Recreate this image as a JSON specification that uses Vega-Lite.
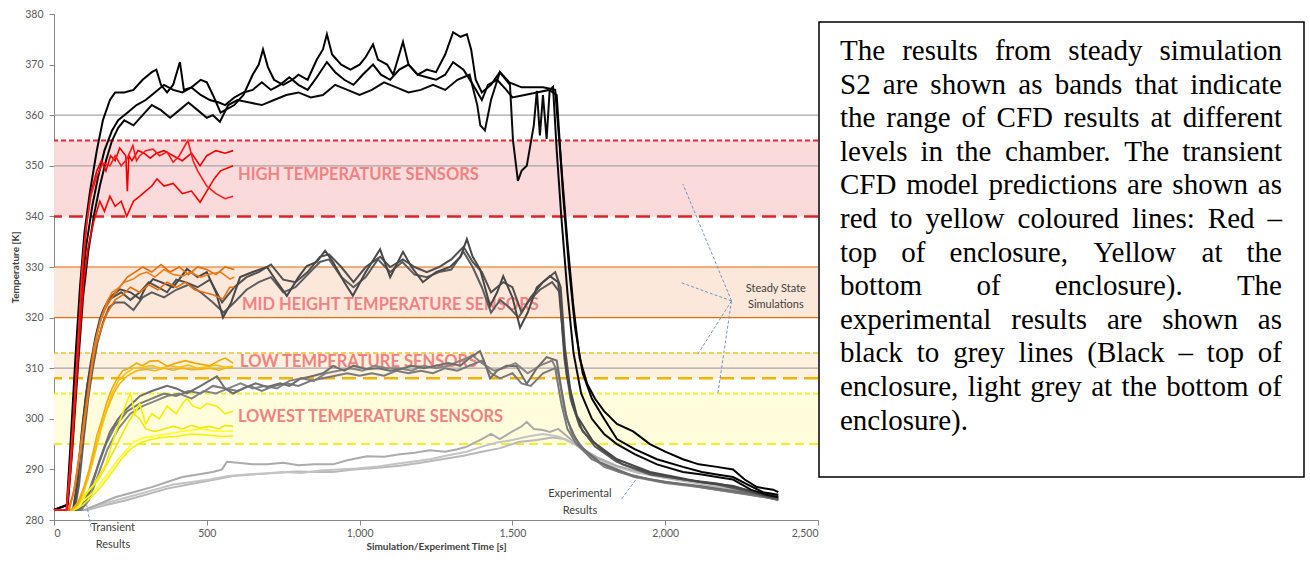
{
"$schema": "https://vega.github.io/schema/vega-lite/v6.json",
"background": "white",
"padding": {"left": 10, "top": 9, "right": 2, "bottom": 2},
"spacing": 1,
"bounds": "flush",
"config": {
  "view": {"stroke": null},
  "axis": {"grid": false, "domainColor": "#868686", "tickColor": "#868686", "tickSize": 5, "labelFont": "Lato", "labelFontSize": 10.5, "labelColor": "#595959", "titleFont": "Lato", "titleFontSize": 10, "titleFontWeight": "bold", "titleColor": "#404040"},
  "axisX": {"labelPadding": 3, "titlePadding": 3},
  "axisY": {"labelPadding": 6, "titlePadding": 4, "minExtent": 30, "maxExtent": 30}
},
"datasets": {
"exp": [
{"s":"exp01","t":0,"v":282},{"s":"exp01","t":110,"v":282},{"s":"exp01","t":160,"v":282.8},{"s":"exp01","t":230,"v":283.8},{"s":"exp01","t":300,"v":285},{"s":"exp01","t":370,"v":286.2},{"s":"exp01","t":440,"v":287},{"s":"exp01","t":510,"v":287.8},{"s":"exp01","t":586,"v":288.7},{"s":"exp01","t":650,"v":289},{"s":"exp01","t":720,"v":289.3},{"s":"exp01","t":790,"v":289.6},{"s":"exp01","t":860,"v":289.5},{"s":"exp01","t":913,"v":289.5},{"s":"exp01","t":980,"v":290},{"s":"exp01","t":1050,"v":290.3},{"s":"exp01","t":1132,"v":290.7},{"s":"exp01","t":1200,"v":291.3},{"s":"exp01","t":1270,"v":292},{"s":"exp01","t":1340,"v":292.7},{"s":"exp01","t":1400,"v":293.5},{"s":"exp01","t":1460,"v":294.2},{"s":"exp01","t":1520,"v":295.4},{"s":"exp01","t":1580,"v":295.8},{"s":"exp01","t":1630,"v":296.3},{"s":"exp01","t":1670,"v":296},{"s":"exp01","t":1710,"v":294.8},{"s":"exp01","t":1760,"v":292.8},{"s":"exp01","t":1830,"v":290.8},{"s":"exp01","t":1900,"v":289.5},{"s":"exp01","t":2000,"v":288.3},{"s":"exp01","t":2100,"v":287.3},{"s":"exp01","t":2200,"v":286.3},{"s":"exp01","t":2300,"v":285},{"s":"exp01","t":2370,"v":284},
{"s":"exp02","t":0,"v":282},{"s":"exp02","t":105,"v":282},{"s":"exp02","t":150,"v":283},{"s":"exp02","t":210,"v":284},{"s":"exp02","t":270,"v":285},{"s":"exp02","t":330,"v":286},{"s":"exp02","t":390,"v":287},{"s":"exp02","t":450,"v":287.5},{"s":"exp02","t":510,"v":288},{"s":"exp02","t":570,"v":288.7},{"s":"exp02","t":630,"v":289},{"s":"exp02","t":690,"v":289.2},{"s":"exp02","t":750,"v":289.5},{"s":"exp02","t":810,"v":289.3},{"s":"exp02","t":870,"v":289.8},{"s":"exp02","t":930,"v":290},{"s":"exp02","t":990,"v":290.2},{"s":"exp02","t":1050,"v":290.5},{"s":"exp02","t":1110,"v":291},{"s":"exp02","t":1170,"v":291.5},{"s":"exp02","t":1230,"v":292},{"s":"exp02","t":1290,"v":292.8},{"s":"exp02","t":1350,"v":293.5},{"s":"exp02","t":1400,"v":294.5},{"s":"exp02","t":1450,"v":295.3},{"s":"exp02","t":1500,"v":295.8},{"s":"exp02","t":1550,"v":296.5},{"s":"exp02","t":1600,"v":297},{"s":"exp02","t":1650,"v":296.5},{"s":"exp02","t":1690,"v":295.5},{"s":"exp02","t":1740,"v":293.5},{"s":"exp02","t":1800,"v":291.5},{"s":"exp02","t":1870,"v":290},{"s":"exp02","t":1950,"v":289},{"s":"exp02","t":2050,"v":288},{"s":"exp02","t":2150,"v":287},{"s":"exp02","t":2250,"v":286},{"s":"exp02","t":2330,"v":285},{"s":"exp02","t":2370,"v":284.2},
{"s":"exp03","t":0,"v":282},{"s":"exp03","t":100,"v":282},{"s":"exp03","t":140,"v":283},{"s":"exp03","t":200,"v":284.5},{"s":"exp03","t":260,"v":285.5},{"s":"exp03","t":320,"v":286.5},{"s":"exp03","t":370,"v":287.5},{"s":"exp03","t":420,"v":288.5},{"s":"exp03","t":470,"v":289},{"s":"exp03","t":520,"v":289.5},{"s":"exp03","t":550,"v":290},{"s":"exp03","t":566,"v":291.5},{"s":"exp03","t":600,"v":291.3},{"s":"exp03","t":650,"v":291},{"s":"exp03","t":697,"v":291},{"s":"exp03","t":750,"v":291.3},{"s":"exp03","t":800,"v":290.8},{"s":"exp03","t":850,"v":291},{"s":"exp03","t":913,"v":291},{"s":"exp03","t":960,"v":291.8},{"s":"exp03","t":1000,"v":292.3},{"s":"exp03","t":1024,"v":292.6},{"s":"exp03","t":1080,"v":292.5},{"s":"exp03","t":1132,"v":293},{"s":"exp03","t":1180,"v":293.3},{"s":"exp03","t":1230,"v":293.8},{"s":"exp03","t":1280,"v":293.5},{"s":"exp03","t":1320,"v":294},{"s":"exp03","t":1351,"v":294.5},{"s":"exp03","t":1400,"v":296},{"s":"exp03","t":1430,"v":297},{"s":"exp03","t":1459,"v":296},{"s":"exp03","t":1500,"v":297.5},{"s":"exp03","t":1530,"v":298.5},{"s":"exp03","t":1547,"v":299.4},{"s":"exp03","t":1570,"v":298},{"s":"exp03","t":1600,"v":297.8},{"s":"exp03","t":1623,"v":297.4},{"s":"exp03","t":1650,"v":298},{"s":"exp03","t":1678,"v":296.6},{"s":"exp03","t":1700,"v":295.5},{"s":"exp03","t":1731,"v":294},{"s":"exp03","t":1780,"v":292.3},{"s":"exp03","t":1842,"v":290.7},{"s":"exp03","t":1920,"v":289.5},{"s":"exp03","t":2005,"v":288.7},{"s":"exp03","t":2110,"v":287.5},{"s":"exp03","t":2222,"v":286.7},{"s":"exp03","t":2300,"v":285.3},{"s":"exp03","t":2353,"v":284.2},{"s":"exp03","t":2370,"v":284},
{"s":"exp04","t":0,"v":282},{"s":"exp04","t":90,"v":282},{"s":"exp04","t":115,"v":284},{"s":"exp04","t":145,"v":289},{"s":"exp04","t":175,"v":294},{"s":"exp04","t":210,"v":298},{"s":"exp04","t":250,"v":301},{"s":"exp04","t":290,"v":302.5},{"s":"exp04","t":330,"v":303.5},{"s":"exp04","t":370,"v":304.5},{"s":"exp04","t":410,"v":305},{"s":"exp04","t":450,"v":304},{"s":"exp04","t":490,"v":305.5},{"s":"exp04","t":530,"v":305},{"s":"exp04","t":570,"v":306},{"s":"exp04","t":610,"v":307},{"s":"exp04","t":650,"v":306},{"s":"exp04","t":690,"v":306.5},{"s":"exp04","t":730,"v":306},{"s":"exp04","t":770,"v":307.5},{"s":"exp04","t":810,"v":308},{"s":"exp04","t":850,"v":307.5},{"s":"exp04","t":890,"v":309},{"s":"exp04","t":930,"v":309.5},{"s":"exp04","t":970,"v":310},{"s":"exp04","t":1010,"v":309.5},{"s":"exp04","t":1050,"v":310.5},{"s":"exp04","t":1090,"v":310},{"s":"exp04","t":1130,"v":310},{"s":"exp04","t":1170,"v":309.5},{"s":"exp04","t":1210,"v":310.5},{"s":"exp04","t":1250,"v":310},{"s":"exp04","t":1290,"v":310.5},{"s":"exp04","t":1330,"v":311.5},{"s":"exp04","t":1370,"v":312.5},{"s":"exp04","t":1400,"v":311},{"s":"exp04","t":1440,"v":309.5},{"s":"exp04","t":1470,"v":310},{"s":"exp04","t":1510,"v":311},{"s":"exp04","t":1550,"v":309},{"s":"exp04","t":1590,"v":310.5},{"s":"exp04","t":1630,"v":311.5},{"s":"exp04","t":1650,"v":309},{"s":"exp04","t":1670,"v":302},{"s":"exp04","t":1695,"v":297},{"s":"exp04","t":1740,"v":293.5},{"s":"exp04","t":1800,"v":290.5},{"s":"exp04","t":1900,"v":288.5},{"s":"exp04","t":2000,"v":287.3},{"s":"exp04","t":2110,"v":286.5},{"s":"exp04","t":2220,"v":285.5},{"s":"exp04","t":2330,"v":284.5},{"s":"exp04","t":2370,"v":284},
{"s":"exp05","t":0,"v":282},{"s":"exp05","t":85,"v":282},{"s":"exp05","t":110,"v":285},{"s":"exp05","t":140,"v":290},{"s":"exp05","t":170,"v":295},{"s":"exp05","t":200,"v":298.5},{"s":"exp05","t":240,"v":301.5},{"s":"exp05","t":280,"v":303},{"s":"exp05","t":320,"v":304},{"s":"exp05","t":360,"v":305},{"s":"exp05","t":400,"v":304.5},{"s":"exp05","t":440,"v":305.5},{"s":"exp05","t":480,"v":305},{"s":"exp05","t":520,"v":306.5},{"s":"exp05","t":560,"v":306},{"s":"exp05","t":600,"v":305.5},{"s":"exp05","t":640,"v":306.5},{"s":"exp05","t":680,"v":305.5},{"s":"exp05","t":720,"v":306.5},{"s":"exp05","t":760,"v":307},{"s":"exp05","t":800,"v":306.5},{"s":"exp05","t":840,"v":307.5},{"s":"exp05","t":880,"v":308},{"s":"exp05","t":920,"v":308.5},{"s":"exp05","t":960,"v":309},{"s":"exp05","t":1000,"v":308.5},{"s":"exp05","t":1040,"v":309},{"s":"exp05","t":1080,"v":308.5},{"s":"exp05","t":1120,"v":309.5},{"s":"exp05","t":1160,"v":309},{"s":"exp05","t":1200,"v":309.5},{"s":"exp05","t":1240,"v":309},{"s":"exp05","t":1280,"v":310},{"s":"exp05","t":1320,"v":309.5},{"s":"exp05","t":1360,"v":310.5},{"s":"exp05","t":1400,"v":311.5},{"s":"exp05","t":1430,"v":309},{"s":"exp05","t":1460,"v":308},{"s":"exp05","t":1500,"v":309},{"s":"exp05","t":1530,"v":307},{"s":"exp05","t":1560,"v":306.5},{"s":"exp05","t":1600,"v":309},{"s":"exp05","t":1640,"v":310},{"s":"exp05","t":1660,"v":303},{"s":"exp05","t":1680,"v":298},{"s":"exp05","t":1710,"v":295},{"s":"exp05","t":1760,"v":292},{"s":"exp05","t":1850,"v":289.5},{"s":"exp05","t":1950,"v":288},{"s":"exp05","t":2060,"v":287},{"s":"exp05","t":2170,"v":286},{"s":"exp05","t":2280,"v":285},{"s":"exp05","t":2370,"v":284},
{"s":"exp06","t":0,"v":282},{"s":"exp06","t":80,"v":282},{"s":"exp06","t":100,"v":283},{"s":"exp06","t":120,"v":286},{"s":"exp06","t":150,"v":292},{"s":"exp06","t":183,"v":297.4},{"s":"exp06","t":210,"v":300},{"s":"exp06","t":238,"v":302},{"s":"exp06","t":281,"v":304.5},{"s":"exp06","t":320,"v":305.5},{"s":"exp06","t":370,"v":306.5},{"s":"exp06","t":400,"v":306},{"s":"exp06","t":435,"v":305},{"s":"exp06","t":480,"v":306.5},{"s":"exp06","t":533,"v":308.4},{"s":"exp06","t":560,"v":306},{"s":"exp06","t":586,"v":305},{"s":"exp06","t":620,"v":306},{"s":"exp06","t":660,"v":307},{"s":"exp06","t":697,"v":306.3},{"s":"exp06","t":740,"v":307},{"s":"exp06","t":770,"v":306.5},{"s":"exp06","t":805,"v":307.9},{"s":"exp06","t":850,"v":308.5},{"s":"exp06","t":880,"v":309},{"s":"exp06","t":913,"v":310.4},{"s":"exp06","t":950,"v":309.5},{"s":"exp06","t":980,"v":310.5},{"s":"exp06","t":1024,"v":309.8},{"s":"exp06","t":1060,"v":310},{"s":"exp06","t":1100,"v":309.5},{"s":"exp06","t":1132,"v":309.8},{"s":"exp06","t":1170,"v":310.5},{"s":"exp06","t":1210,"v":310},{"s":"exp06","t":1250,"v":310.5},{"s":"exp06","t":1290,"v":311},{"s":"exp06","t":1330,"v":310.5},{"s":"exp06","t":1360,"v":312},{"s":"exp06","t":1394,"v":313.4},{"s":"exp06","t":1410,"v":311},{"s":"exp06","t":1427,"v":308},{"s":"exp06","t":1450,"v":309.5},{"s":"exp06","t":1480,"v":310.5},{"s":"exp06","t":1514,"v":310.4},{"s":"exp06","t":1547,"v":306.9},{"s":"exp06","t":1580,"v":310},{"s":"exp06","t":1612,"v":312.2},{"s":"exp06","t":1645,"v":311.5},{"s":"exp06","t":1660,"v":306},{"s":"exp06","t":1678,"v":300},{"s":"exp06","t":1700,"v":297},{"s":"exp06","t":1721,"v":294.6},{"s":"exp06","t":1787,"v":291.4},{"s":"exp06","t":1895,"v":288.7},{"s":"exp06","t":2000,"v":287.5},{"s":"exp06","t":2114,"v":286.7},{"s":"exp06","t":2220,"v":285.8},{"s":"exp06","t":2333,"v":284.7},{"s":"exp06","t":2370,"v":284.3},
{"s":"exp07","t":0,"v":282},{"s":"exp07","t":68,"v":282},{"s":"exp07","t":82,"v":287},{"s":"exp07","t":97,"v":296},{"s":"exp07","t":112,"v":304},{"s":"exp07","t":127,"v":310},{"s":"exp07","t":142,"v":315},{"s":"exp07","t":160,"v":319},{"s":"exp07","t":180,"v":322},{"s":"exp07","t":200,"v":323},{"s":"exp07","t":230,"v":323},{"s":"exp07","t":260,"v":321.5},{"s":"exp07","t":290,"v":324},{"s":"exp07","t":320,"v":325},{"s":"exp07","t":360,"v":324},{"s":"exp07","t":400,"v":325.5},{"s":"exp07","t":440,"v":326.5},{"s":"exp07","t":480,"v":325},{"s":"exp07","t":520,"v":323},{"s":"exp07","t":555,"v":321},{"s":"exp07","t":590,"v":323},{"s":"exp07","t":630,"v":325.5},{"s":"exp07","t":670,"v":327},{"s":"exp07","t":710,"v":328},{"s":"exp07","t":750,"v":325},{"s":"exp07","t":790,"v":326},{"s":"exp07","t":830,"v":328.5},{"s":"exp07","t":870,"v":331},{"s":"exp07","t":900,"v":331.5},{"s":"exp07","t":940,"v":328},{"s":"exp07","t":980,"v":326},{"s":"exp07","t":1020,"v":328},{"s":"exp07","t":1060,"v":331.5},{"s":"exp07","t":1100,"v":329},{"s":"exp07","t":1140,"v":331},{"s":"exp07","t":1180,"v":328.5},{"s":"exp07","t":1220,"v":328},{"s":"exp07","t":1260,"v":329},{"s":"exp07","t":1300,"v":329.5},{"s":"exp07","t":1340,"v":333},{"s":"exp07","t":1370,"v":330},{"s":"exp07","t":1400,"v":326},{"s":"exp07","t":1430,"v":321},{"s":"exp07","t":1460,"v":323.5},{"s":"exp07","t":1490,"v":322},{"s":"exp07","t":1520,"v":320},{"s":"exp07","t":1550,"v":323},{"s":"exp07","t":1590,"v":325.5},{"s":"exp07","t":1630,"v":327},{"s":"exp07","t":1655,"v":325},{"s":"exp07","t":1670,"v":312},{"s":"exp07","t":1690,"v":304},{"s":"exp07","t":1720,"v":298.5},{"s":"exp07","t":1770,"v":294.5},{"s":"exp07","t":1842,"v":291.5},{"s":"exp07","t":1950,"v":289},{"s":"exp07","t":2060,"v":288},{"s":"exp07","t":2170,"v":287},{"s":"exp07","t":2280,"v":285.5},{"s":"exp07","t":2370,"v":284},
{"s":"exp08","t":0,"v":282},{"s":"exp08","t":65,"v":282},{"s":"exp08","t":78,"v":288},{"s":"exp08","t":94,"v":299},{"s":"exp08","t":110,"v":307},{"s":"exp08","t":125,"v":312},{"s":"exp08","t":140,"v":317},{"s":"exp08","t":158,"v":321},{"s":"exp08","t":178,"v":323.5},{"s":"exp08","t":220,"v":325},{"s":"exp08","t":250,"v":323.5},{"s":"exp08","t":281,"v":325},{"s":"exp08","t":310,"v":327},{"s":"exp08","t":340,"v":326},{"s":"exp08","t":370,"v":325},{"s":"exp08","t":400,"v":327.5},{"s":"exp08","t":430,"v":327},{"s":"exp08","t":470,"v":326},{"s":"exp08","t":510,"v":327.5},{"s":"exp08","t":550,"v":323},{"s":"exp08","t":590,"v":326},{"s":"exp08","t":630,"v":328},{"s":"exp08","t":670,"v":329},{"s":"exp08","t":710,"v":330.5},{"s":"exp08","t":750,"v":327.5},{"s":"exp08","t":790,"v":327},{"s":"exp08","t":830,"v":329},{"s":"exp08","t":870,"v":332},{"s":"exp08","t":900,"v":332.5},{"s":"exp08","t":940,"v":330},{"s":"exp08","t":980,"v":327},{"s":"exp08","t":1020,"v":330},{"s":"exp08","t":1067,"v":332},{"s":"exp08","t":1100,"v":330},{"s":"exp08","t":1142,"v":331.5},{"s":"exp08","t":1180,"v":330},{"s":"exp08","t":1220,"v":329},{"s":"exp08","t":1260,"v":330},{"s":"exp08","t":1300,"v":331.5},{"s":"exp08","t":1340,"v":334},{"s":"exp08","t":1370,"v":331},{"s":"exp08","t":1400,"v":329},{"s":"exp08","t":1430,"v":325},{"s":"exp08","t":1470,"v":327},{"s":"exp08","t":1500,"v":326},{"s":"exp08","t":1530,"v":321},{"s":"exp08","t":1560,"v":324},{"s":"exp08","t":1600,"v":327},{"s":"exp08","t":1640,"v":329},{"s":"exp08","t":1658,"v":326},{"s":"exp08","t":1672,"v":314},{"s":"exp08","t":1695,"v":303},{"s":"exp08","t":1730,"v":297.5},{"s":"exp08","t":1790,"v":294},{"s":"exp08","t":1860,"v":291},{"s":"exp08","t":1950,"v":289.3},{"s":"exp08","t":2060,"v":288},{"s":"exp08","t":2170,"v":287.2},{"s":"exp08","t":2280,"v":285.8},{"s":"exp08","t":2370,"v":284.8},
{"s":"exp09","t":0,"v":282},{"s":"exp09","t":62,"v":282},{"s":"exp09","t":75,"v":287},{"s":"exp09","t":90,"v":297},{"s":"exp09","t":105,"v":305},{"s":"exp09","t":120,"v":311},{"s":"exp09","t":135,"v":316},{"s":"exp09","t":150,"v":319.7},{"s":"exp09","t":165,"v":322},{"s":"exp09","t":183,"v":324},{"s":"exp09","t":216,"v":325.6},{"s":"exp09","t":250,"v":325},{"s":"exp09","t":281,"v":323.7},{"s":"exp09","t":300,"v":326},{"s":"exp09","t":324,"v":327.6},{"s":"exp09","t":350,"v":327},{"s":"exp09","t":390,"v":326},{"s":"exp09","t":435,"v":329.6},{"s":"exp09","t":470,"v":328},{"s":"exp09","t":500,"v":329},{"s":"exp09","t":530,"v":325},{"s":"exp09","t":553,"v":320},{"s":"exp09","t":580,"v":323},{"s":"exp09","t":609,"v":328},{"s":"exp09","t":650,"v":329},{"s":"exp09","t":697,"v":330},{"s":"exp09","t":730,"v":327},{"s":"exp09","t":762,"v":324.3},{"s":"exp09","t":800,"v":328},{"s":"exp09","t":827,"v":330.2},{"s":"exp09","t":860,"v":331},{"s":"exp09","t":887,"v":333.2},{"s":"exp09","t":913,"v":331},{"s":"exp09","t":950,"v":327},{"s":"exp09","t":978,"v":324.3},{"s":"exp09","t":1020,"v":329},{"s":"exp09","t":1067,"v":333.5},{"s":"exp09","t":1100,"v":328},{"s":"exp09","t":1142,"v":333},{"s":"exp09","t":1170,"v":330},{"s":"exp09","t":1207,"v":327},{"s":"exp09","t":1250,"v":329},{"s":"exp09","t":1296,"v":330},{"s":"exp09","t":1330,"v":332},{"s":"exp09","t":1351,"v":335.5},{"s":"exp09","t":1370,"v":332},{"s":"exp09","t":1394,"v":329.6},{"s":"exp09","t":1427,"v":322.3},{"s":"exp09","t":1450,"v":325},{"s":"exp09","t":1470,"v":328.2},{"s":"exp09","t":1500,"v":324},{"s":"exp09","t":1525,"v":318},{"s":"exp09","t":1550,"v":321},{"s":"exp09","t":1580,"v":326},{"s":"exp09","t":1623,"v":328.2},{"s":"exp09","t":1650,"v":327},{"s":"exp09","t":1666,"v":316},{"s":"exp09","t":1678,"v":308.5},{"s":"exp09","t":1711,"v":300.6},{"s":"exp09","t":1765,"v":295.4},{"s":"exp09","t":1842,"v":292},{"s":"exp09","t":1950,"v":289.5},{"s":"exp09","t":2050,"v":288.3},{"s":"exp09","t":2114,"v":287.5},{"s":"exp09","t":2222,"v":286.7},{"s":"exp09","t":2333,"v":284.7},{"s":"exp09","t":2370,"v":284.5},
{"s":"exp10","t":0,"v":282},{"s":"exp10","t":45,"v":283},{"s":"exp10","t":60,"v":294},{"s":"exp10","t":78,"v":310},{"s":"exp10","t":95,"v":324},{"s":"exp10","t":112,"v":333},{"s":"exp10","t":130,"v":340},{"s":"exp10","t":150,"v":346},{"s":"exp10","t":170,"v":351},{"s":"exp10","t":190,"v":355},{"s":"exp10","t":210,"v":357.5},{"s":"exp10","t":230,"v":359},{"s":"exp10","t":260,"v":358},{"s":"exp10","t":290,"v":360},{"s":"exp10","t":320,"v":362},{"s":"exp10","t":350,"v":361},{"s":"exp10","t":380,"v":359.5},{"s":"exp10","t":410,"v":361},{"s":"exp10","t":440,"v":362.5},{"s":"exp10","t":470,"v":361},{"s":"exp10","t":500,"v":359.5},{"s":"exp10","t":520,"v":360},{"s":"exp10","t":543,"v":358.7},{"s":"exp10","t":570,"v":362},{"s":"exp10","t":600,"v":363},{"s":"exp10","t":640,"v":362.5},{"s":"exp10","t":680,"v":362},{"s":"exp10","t":720,"v":363},{"s":"exp10","t":760,"v":364},{"s":"exp10","t":800,"v":364.5},{"s":"exp10","t":840,"v":363.5},{"s":"exp10","t":880,"v":364},{"s":"exp10","t":920,"v":366},{"s":"exp10","t":960,"v":365},{"s":"exp10","t":1000,"v":364},{"s":"exp10","t":1040,"v":365},{"s":"exp10","t":1080,"v":366.5},{"s":"exp10","t":1120,"v":365.5},{"s":"exp10","t":1160,"v":364.5},{"s":"exp10","t":1200,"v":365},{"s":"exp10","t":1240,"v":366},{"s":"exp10","t":1280,"v":365},{"s":"exp10","t":1320,"v":367},{"s":"exp10","t":1360,"v":368},{"s":"exp10","t":1385,"v":362},{"s":"exp10","t":1395,"v":358},{"s":"exp10","t":1410,"v":357},{"s":"exp10","t":1430,"v":363},{"s":"exp10","t":1459,"v":368.5},{"s":"exp10","t":1492,"v":366},{"s":"exp10","t":1502,"v":355},{"s":"exp10","t":1518,"v":347},{"s":"exp10","t":1530,"v":349},{"s":"exp10","t":1547,"v":350},{"s":"exp10","t":1570,"v":358},{"s":"exp10","t":1580,"v":364.8},{"s":"exp10","t":1590,"v":356},{"s":"exp10","t":1600,"v":364},{"s":"exp10","t":1612,"v":355.3},{"s":"exp10","t":1622,"v":365},{"s":"exp10","t":1633,"v":365.6},{"s":"exp10","t":1645,"v":353},{"s":"exp10","t":1660,"v":340},{"s":"exp10","t":1680,"v":325},{"s":"exp10","t":1700,"v":313},{"s":"exp10","t":1725,"v":305},{"s":"exp10","t":1760,"v":300},{"s":"exp10","t":1800,"v":297},{"s":"exp10","t":1842,"v":295},{"s":"exp10","t":1900,"v":293},{"s":"exp10","t":1973,"v":291},{"s":"exp10","t":2058,"v":289.5},{"s":"exp10","t":2120,"v":289},{"s":"exp10","t":2169,"v":288.5},{"s":"exp10","t":2222,"v":288},{"s":"exp10","t":2280,"v":286},{"s":"exp10","t":2330,"v":285},{"s":"exp10","t":2370,"v":284.5},
{"s":"exp11","t":0,"v":282},{"s":"exp11","t":44,"v":283},{"s":"exp11","t":58,"v":295},{"s":"exp11","t":75,"v":312},{"s":"exp11","t":90,"v":325},{"s":"exp11","t":105,"v":334},{"s":"exp11","t":125,"v":342},{"s":"exp11","t":145,"v":348},{"s":"exp11","t":165,"v":353},{"s":"exp11","t":190,"v":357},{"s":"exp11","t":210,"v":359},{"s":"exp11","t":240,"v":360.5},{"s":"exp11","t":270,"v":362},{"s":"exp11","t":300,"v":363},{"s":"exp11","t":330,"v":364.5},{"s":"exp11","t":360,"v":366},{"s":"exp11","t":390,"v":365},{"s":"exp11","t":420,"v":364.5},{"s":"exp11","t":450,"v":365.5},{"s":"exp11","t":480,"v":364},{"s":"exp11","t":510,"v":363},{"s":"exp11","t":540,"v":362.5},{"s":"exp11","t":560,"v":362},{"s":"exp11","t":590,"v":363.5},{"s":"exp11","t":620,"v":364.5},{"s":"exp11","t":650,"v":365},{"s":"exp11","t":680,"v":366.5},{"s":"exp11","t":710,"v":365},{"s":"exp11","t":740,"v":366},{"s":"exp11","t":770,"v":367.5},{"s":"exp11","t":800,"v":366},{"s":"exp11","t":830,"v":365},{"s":"exp11","t":860,"v":367.5},{"s":"exp11","t":893,"v":370.5},{"s":"exp11","t":920,"v":368.5},{"s":"exp11","t":950,"v":367},{"s":"exp11","t":980,"v":366},{"s":"exp11","t":1010,"v":368},{"s":"exp11","t":1044,"v":370},{"s":"exp11","t":1070,"v":368},{"s":"exp11","t":1100,"v":367},{"s":"exp11","t":1130,"v":369},{"s":"exp11","t":1160,"v":370},{"s":"exp11","t":1190,"v":368},{"s":"exp11","t":1220,"v":367.5},{"s":"exp11","t":1250,"v":367},{"s":"exp11","t":1280,"v":368},{"s":"exp11","t":1306,"v":370.5},{"s":"exp11","t":1340,"v":369},{"s":"exp11","t":1371,"v":366},{"s":"exp11","t":1400,"v":363},{"s":"exp11","t":1420,"v":366},{"s":"exp11","t":1450,"v":367},{"s":"exp11","t":1480,"v":365},{"s":"exp11","t":1500,"v":363.5},{"s":"exp11","t":1540,"v":364},{"s":"exp11","t":1580,"v":364.5},{"s":"exp11","t":1620,"v":365},{"s":"exp11","t":1645,"v":364},{"s":"exp11","t":1665,"v":345},{"s":"exp11","t":1685,"v":330},{"s":"exp11","t":1705,"v":318},{"s":"exp11","t":1730,"v":309},{"s":"exp11","t":1760,"v":304},{"s":"exp11","t":1800,"v":300},{"s":"exp11","t":1842,"v":296},{"s":"exp11","t":1900,"v":294},{"s":"exp11","t":1973,"v":292},{"s":"exp11","t":2058,"v":290.5},{"s":"exp11","t":2120,"v":289.5},{"s":"exp11","t":2169,"v":289},{"s":"exp11","t":2222,"v":288.5},{"s":"exp11","t":2270,"v":287},{"s":"exp11","t":2320,"v":285.5},{"s":"exp11","t":2370,"v":285},
{"s":"exp12","t":0,"v":282},{"s":"exp12","t":42,"v":283},{"s":"exp12","t":55,"v":296},{"s":"exp12","t":70,"v":312},{"s":"exp12","t":85,"v":326},{"s":"exp12","t":100,"v":337},{"s":"exp12","t":118,"v":345},{"s":"exp12","t":140,"v":353},{"s":"exp12","t":160,"v":359},{"s":"exp12","t":183,"v":363},{"s":"exp12","t":200,"v":364.5},{"s":"exp12","t":230,"v":364.5},{"s":"exp12","t":260,"v":365},{"s":"exp12","t":290,"v":367},{"s":"exp12","t":320,"v":368.5},{"s":"exp12","t":335,"v":369},{"s":"exp12","t":350,"v":366},{"s":"exp12","t":370,"v":364.5},{"s":"exp12","t":390,"v":366},{"s":"exp12","t":412,"v":370.5},{"s":"exp12","t":425,"v":365},{"s":"exp12","t":450,"v":365.5},{"s":"exp12","t":480,"v":367},{"s":"exp12","t":500,"v":366.5},{"s":"exp12","t":520,"v":364},{"s":"exp12","t":545,"v":360.5},{"s":"exp12","t":560,"v":361},{"s":"exp12","t":590,"v":362},{"s":"exp12","t":620,"v":364},{"s":"exp12","t":650,"v":368},{"s":"exp12","t":670,"v":370},{"s":"exp12","t":684,"v":373},{"s":"exp12","t":700,"v":369.5},{"s":"exp12","t":720,"v":367},{"s":"exp12","t":750,"v":366},{"s":"exp12","t":780,"v":367},{"s":"exp12","t":800,"v":368},{"s":"exp12","t":830,"v":367},{"s":"exp12","t":860,"v":371},{"s":"exp12","t":880,"v":373},{"s":"exp12","t":893,"v":376},{"s":"exp12","t":910,"v":372},{"s":"exp12","t":940,"v":370},{"s":"exp12","t":970,"v":369},{"s":"exp12","t":1000,"v":370},{"s":"exp12","t":1020,"v":371.5},{"s":"exp12","t":1044,"v":374},{"s":"exp12","t":1060,"v":371},{"s":"exp12","t":1090,"v":370},{"s":"exp12","t":1110,"v":368},{"s":"exp12","t":1142,"v":374.5},{"s":"exp12","t":1160,"v":370},{"s":"exp12","t":1190,"v":368},{"s":"exp12","t":1220,"v":369},{"s":"exp12","t":1250,"v":368.5},{"s":"exp12","t":1280,"v":372},{"s":"exp12","t":1306,"v":376.4},{"s":"exp12","t":1330,"v":375.5},{"s":"exp12","t":1351,"v":376},{"s":"exp12","t":1365,"v":373},{"s":"exp12","t":1380,"v":367},{"s":"exp12","t":1400,"v":364.5},{"s":"exp12","t":1430,"v":366},{"s":"exp12","t":1459,"v":368.5},{"s":"exp12","t":1490,"v":366.5},{"s":"exp12","t":1530,"v":365.5},{"s":"exp12","t":1560,"v":365.5},{"s":"exp12","t":1600,"v":365.5},{"s":"exp12","t":1640,"v":365},{"s":"exp12","t":1660,"v":350},{"s":"exp12","t":1680,"v":335},{"s":"exp12","t":1700,"v":322},{"s":"exp12","t":1720,"v":312},{"s":"exp12","t":1744,"v":307},{"s":"exp12","t":1770,"v":304},{"s":"exp12","t":1800,"v":301.5},{"s":"exp12","t":1842,"v":299},{"s":"exp12","t":1895,"v":297.5},{"s":"exp12","t":1950,"v":295},{"s":"exp12","t":2000,"v":293.5},{"s":"exp12","t":2058,"v":292},{"s":"exp12","t":2110,"v":291},{"s":"exp12","t":2169,"v":290.5},{"s":"exp12","t":2222,"v":290},{"s":"exp12","t":2260,"v":288},{"s":"exp12","t":2300,"v":286.5},{"s":"exp12","t":2353,"v":286},{"s":"exp12","t":2370,"v":285.5}
],
"cfd": [
{"s":"cfd01","t":0,"v":282},{"s":"cfd01","t":66,"v":282},{"s":"cfd01","t":95,"v":283},{"s":"cfd01","t":130,"v":285},{"s":"cfd01","t":160,"v":287},{"s":"cfd01","t":190,"v":289.5},{"s":"cfd01","t":220,"v":292},{"s":"cfd01","t":250,"v":294},{"s":"cfd01","t":280,"v":295.2},{"s":"cfd01","t":310,"v":295.8},{"s":"cfd01","t":350,"v":296.3},{"s":"cfd01","t":400,"v":296.5},{"s":"cfd01","t":450,"v":297},{"s":"cfd01","t":500,"v":296.8},{"s":"cfd01","t":550,"v":296.5},{"s":"cfd01","t":586,"v":296.6},
{"s":"cfd02","t":0,"v":282},{"s":"cfd02","t":64,"v":282},{"s":"cfd02","t":90,"v":283.5},{"s":"cfd02","t":120,"v":285},{"s":"cfd02","t":150,"v":287},{"s":"cfd02","t":180,"v":289.5},{"s":"cfd02","t":210,"v":292},{"s":"cfd02","t":240,"v":294},{"s":"cfd02","t":259,"v":295.4},{"s":"cfd02","t":290,"v":296.2},{"s":"cfd02","t":320,"v":296.5},{"s":"cfd02","t":370,"v":297},{"s":"cfd02","t":420,"v":297.5},{"s":"cfd02","t":478,"v":298},{"s":"cfd02","t":520,"v":297.6},{"s":"cfd02","t":550,"v":297.5},{"s":"cfd02","t":586,"v":297.6},
{"s":"cfd03","t":0,"v":282},{"s":"cfd03","t":62,"v":282},{"s":"cfd03","t":85,"v":283.5},{"s":"cfd03","t":110,"v":285.5},{"s":"cfd03","t":140,"v":287.5},{"s":"cfd03","t":165,"v":290},{"s":"cfd03","t":190,"v":293},{"s":"cfd03","t":215,"v":296},{"s":"cfd03","t":240,"v":299},{"s":"cfd03","t":260,"v":301},{"s":"cfd03","t":280,"v":300},{"s":"cfd03","t":300,"v":298},{"s":"cfd03","t":330,"v":297.5},{"s":"cfd03","t":360,"v":298},{"s":"cfd03","t":390,"v":298.5},{"s":"cfd03","t":420,"v":298},{"s":"cfd03","t":450,"v":298.7},{"s":"cfd03","t":478,"v":298.2},{"s":"cfd03","t":510,"v":298.5},{"s":"cfd03","t":540,"v":298},{"s":"cfd03","t":560,"v":298.7},{"s":"cfd03","t":586,"v":298.5},
{"s":"cfd04","t":0,"v":282},{"s":"cfd04","t":60,"v":282},{"s":"cfd04","t":80,"v":283.5},{"s":"cfd04","t":100,"v":285},{"s":"cfd04","t":130,"v":287},{"s":"cfd04","t":150,"v":289},{"s":"cfd04","t":170,"v":291},{"s":"cfd04","t":190,"v":295},{"s":"cfd04","t":206,"v":298},{"s":"cfd04","t":226,"v":301.3},{"s":"cfd04","t":238,"v":303.3},{"s":"cfd04","t":250,"v":305},{"s":"cfd04","t":265,"v":301},{"s":"cfd04","t":280,"v":303},{"s":"cfd04","t":300,"v":299},{"s":"cfd04","t":320,"v":301},{"s":"cfd04","t":345,"v":300},{"s":"cfd04","t":370,"v":302.5},{"s":"cfd04","t":400,"v":301},{"s":"cfd04","t":420,"v":303},{"s":"cfd04","t":435,"v":304},{"s":"cfd04","t":455,"v":302.5},{"s":"cfd04","t":478,"v":302},{"s":"cfd04","t":500,"v":303},{"s":"cfd04","t":533,"v":302.5},{"s":"cfd04","t":560,"v":301},{"s":"cfd04","t":586,"v":301.5},
{"s":"cfd05","t":0,"v":282},{"s":"cfd05","t":60,"v":282},{"s":"cfd05","t":85,"v":284},{"s":"cfd05","t":110,"v":288},{"s":"cfd05","t":135,"v":294},{"s":"cfd05","t":155,"v":298.5},{"s":"cfd05","t":175,"v":302},{"s":"cfd05","t":195,"v":305},{"s":"cfd05","t":215,"v":307},{"s":"cfd05","t":240,"v":308.5},{"s":"cfd05","t":270,"v":309.5},{"s":"cfd05","t":300,"v":309.8},{"s":"cfd05","t":330,"v":309.5},{"s":"cfd05","t":360,"v":310},{"s":"cfd05","t":390,"v":309.6},{"s":"cfd05","t":420,"v":310},{"s":"cfd05","t":450,"v":309.7},{"s":"cfd05","t":480,"v":309.8},{"s":"cfd05","t":510,"v":310},{"s":"cfd05","t":540,"v":309.6},{"s":"cfd05","t":570,"v":310.2},{"s":"cfd05","t":586,"v":310},
{"s":"cfd06","t":0,"v":282},{"s":"cfd06","t":58,"v":282},{"s":"cfd06","t":80,"v":283},{"s":"cfd06","t":100,"v":286},{"s":"cfd06","t":125,"v":291},{"s":"cfd06","t":150,"v":297},{"s":"cfd06","t":170,"v":301.5},{"s":"cfd06","t":190,"v":305},{"s":"cfd06","t":210,"v":307.5},{"s":"cfd06","t":235,"v":309},{"s":"cfd06","t":260,"v":310},{"s":"cfd06","t":290,"v":310.2},{"s":"cfd06","t":320,"v":310.5},{"s":"cfd06","t":350,"v":310},{"s":"cfd06","t":380,"v":310.5},{"s":"cfd06","t":410,"v":310.2},{"s":"cfd06","t":440,"v":310.6},{"s":"cfd06","t":470,"v":310},{"s":"cfd06","t":500,"v":310.3},{"s":"cfd06","t":530,"v":310.6},{"s":"cfd06","t":560,"v":310.2},{"s":"cfd06","t":586,"v":310.4},
{"s":"cfd07","t":0,"v":282},{"s":"cfd07","t":55,"v":282},{"s":"cfd07","t":75,"v":283},{"s":"cfd07","t":95,"v":286},{"s":"cfd07","t":115,"v":290},{"s":"cfd07","t":140,"v":296.6},{"s":"cfd07","t":160,"v":300.5},{"s":"cfd07","t":173,"v":303.3},{"s":"cfd07","t":190,"v":306},{"s":"cfd07","t":206,"v":307.9},{"s":"cfd07","t":225,"v":309.5},{"s":"cfd07","t":245,"v":310},{"s":"cfd07","t":270,"v":311},{"s":"cfd07","t":290,"v":310.5},{"s":"cfd07","t":314,"v":311.4},{"s":"cfd07","t":340,"v":311.5},{"s":"cfd07","t":370,"v":310.4},{"s":"cfd07","t":400,"v":311},{"s":"cfd07","t":430,"v":311.5},{"s":"cfd07","t":460,"v":311},{"s":"cfd07","t":478,"v":310.8},{"s":"cfd07","t":510,"v":310.5},{"s":"cfd07","t":540,"v":311.5},{"s":"cfd07","t":560,"v":312},{"s":"cfd07","t":586,"v":311},
{"s":"cfd08","t":0,"v":282},{"s":"cfd08","t":50,"v":282},{"s":"cfd08","t":70,"v":287},{"s":"cfd08","t":95,"v":298},{"s":"cfd08","t":115,"v":307},{"s":"cfd08","t":135,"v":314},{"s":"cfd08","t":155,"v":318},{"s":"cfd08","t":175,"v":321},{"s":"cfd08","t":200,"v":323.5},{"s":"cfd08","t":225,"v":324.5},{"s":"cfd08","t":250,"v":326},{"s":"cfd08","t":280,"v":325},{"s":"cfd08","t":310,"v":326.5},{"s":"cfd08","t":340,"v":325.5},{"s":"cfd08","t":370,"v":327},{"s":"cfd08","t":400,"v":326},{"s":"cfd08","t":430,"v":327},{"s":"cfd08","t":460,"v":325.5},{"s":"cfd08","t":490,"v":325},{"s":"cfd08","t":520,"v":324.5},{"s":"cfd08","t":553,"v":323.7},{"s":"cfd08","t":575,"v":326},{"s":"cfd08","t":590,"v":326},
{"s":"cfd09","t":0,"v":282},{"s":"cfd09","t":48,"v":282},{"s":"cfd09","t":66,"v":286},{"s":"cfd09","t":90,"v":296},{"s":"cfd09","t":110,"v":305},{"s":"cfd09","t":130,"v":314},{"s":"cfd09","t":150,"v":319},{"s":"cfd09","t":170,"v":322},{"s":"cfd09","t":190,"v":324},{"s":"cfd09","t":215,"v":326},{"s":"cfd09","t":240,"v":328},{"s":"cfd09","t":265,"v":329},{"s":"cfd09","t":290,"v":330},{"s":"cfd09","t":320,"v":329},{"s":"cfd09","t":350,"v":330.5},{"s":"cfd09","t":380,"v":329},{"s":"cfd09","t":410,"v":330},{"s":"cfd09","t":440,"v":328.5},{"s":"cfd09","t":470,"v":330},{"s":"cfd09","t":500,"v":329.5},{"s":"cfd09","t":530,"v":328.5},{"s":"cfd09","t":560,"v":330},{"s":"cfd09","t":590,"v":329.5},
{"s":"cfd10","t":0,"v":282},{"s":"cfd10","t":45,"v":282},{"s":"cfd10","t":63,"v":285},{"s":"cfd10","t":85,"v":293},{"s":"cfd10","t":108,"v":303},{"s":"cfd10","t":125,"v":311},{"s":"cfd10","t":140,"v":316.4},{"s":"cfd10","t":155,"v":320},{"s":"cfd10","t":173,"v":323},{"s":"cfd10","t":190,"v":325},{"s":"cfd10","t":206,"v":325.6},{"s":"cfd10","t":230,"v":327},{"s":"cfd10","t":259,"v":327.6},{"s":"cfd10","t":280,"v":328.5},{"s":"cfd10","t":304,"v":329},{"s":"cfd10","t":330,"v":328},{"s":"cfd10","t":360,"v":329.5},{"s":"cfd10","t":390,"v":328.5},{"s":"cfd10","t":422,"v":328.2},{"s":"cfd10","t":445,"v":329},{"s":"cfd10","t":480,"v":328},{"s":"cfd10","t":510,"v":328.6},{"s":"cfd10","t":545,"v":329},{"s":"cfd10","t":576,"v":327.6},{"s":"cfd10","t":590,"v":328},
{"s":"cfd11","t":0,"v":282},{"s":"cfd11","t":42,"v":282},{"s":"cfd11","t":55,"v":290},{"s":"cfd11","t":68,"v":302},{"s":"cfd11","t":82,"v":315},{"s":"cfd11","t":97,"v":327},{"s":"cfd11","t":112,"v":334},{"s":"cfd11","t":130,"v":339},{"s":"cfd11","t":150,"v":343},{"s":"cfd11","t":165,"v":341},{"s":"cfd11","t":183,"v":344},{"s":"cfd11","t":200,"v":342},{"s":"cfd11","t":220,"v":343},{"s":"cfd11","t":238,"v":340},{"s":"cfd11","t":260,"v":343},{"s":"cfd11","t":281,"v":344},{"s":"cfd11","t":300,"v":345},{"s":"cfd11","t":320,"v":346},{"s":"cfd11","t":337,"v":347.4},{"s":"cfd11","t":360,"v":346},{"s":"cfd11","t":390,"v":346.5},{"s":"cfd11","t":420,"v":344.5},{"s":"cfd11","t":450,"v":345},{"s":"cfd11","t":478,"v":342.8},{"s":"cfd11","t":500,"v":345},{"s":"cfd11","t":525,"v":347.5},{"s":"cfd11","t":545,"v":349},{"s":"cfd11","t":566,"v":349.5},{"s":"cfd11","t":586,"v":350},
{"s":"cfd12","t":0,"v":282},{"s":"cfd12","t":41,"v":282},{"s":"cfd12","t":53,"v":290},{"s":"cfd12","t":66,"v":302},{"s":"cfd12","t":80,"v":316},{"s":"cfd12","t":95,"v":330},{"s":"cfd12","t":108,"v":339},{"s":"cfd12","t":122,"v":345},{"s":"cfd12","t":140,"v":349},{"s":"cfd12","t":155,"v":351},{"s":"cfd12","t":170,"v":349},{"s":"cfd12","t":185,"v":352},{"s":"cfd12","t":200,"v":351},{"s":"cfd12","t":215,"v":353.5},{"s":"cfd12","t":235,"v":352},{"s":"cfd12","t":240,"v":345},{"s":"cfd12","t":245,"v":352},{"s":"cfd12","t":255,"v":351},{"s":"cfd12","t":275,"v":353},{"s":"cfd12","t":295,"v":352.5},{"s":"cfd12","t":315,"v":351.5},{"s":"cfd12","t":335,"v":352.5},{"s":"cfd12","t":360,"v":353},{"s":"cfd12","t":390,"v":352},{"s":"cfd12","t":420,"v":351},{"s":"cfd12","t":450,"v":352.5},{"s":"cfd12","t":478,"v":350},{"s":"cfd12","t":500,"v":352},{"s":"cfd12","t":530,"v":353},{"s":"cfd12","t":560,"v":352.5},{"s":"cfd12","t":586,"v":353},
{"s":"cfd13","t":0,"v":282},{"s":"cfd13","t":40,"v":282},{"s":"cfd13","t":52,"v":290},{"s":"cfd13","t":65,"v":302},{"s":"cfd13","t":78,"v":315},{"s":"cfd13","t":92,"v":330},{"s":"cfd13","t":105,"v":338},{"s":"cfd13","t":120,"v":344},{"s":"cfd13","t":140,"v":348},{"s":"cfd13","t":160,"v":350.5},{"s":"cfd13","t":183,"v":350},{"s":"cfd13","t":200,"v":352},{"s":"cfd13","t":220,"v":350},{"s":"cfd13","t":238,"v":351.3},{"s":"cfd13","t":258,"v":354},{"s":"cfd13","t":270,"v":351},{"s":"cfd13","t":281,"v":352},{"s":"cfd13","t":300,"v":353},{"s":"cfd13","t":324,"v":353.3},{"s":"cfd13","t":345,"v":352},{"s":"cfd13","t":370,"v":352.7},{"s":"cfd13","t":390,"v":350.7},{"s":"cfd13","t":410,"v":352},{"s":"cfd13","t":438,"v":355},{"s":"cfd13","t":455,"v":351},{"s":"cfd13","t":470,"v":349},{"s":"cfd13","t":500,"v":346},{"s":"cfd13","t":530,"v":344.5},{"s":"cfd13","t":560,"v":343.5},{"s":"cfd13","t":586,"v":344}
],
"words": [
{"w":"The","line":1,"x":21,"role":"first"},{"w":"results","line":1,"x":121.0,"role":"mid"},{"w":"from","line":1,"x":204.1,"role":"mid"},{"w":"steady","line":1,"x":286.4,"role":"mid"},{"w":"simulation","line":1,"x":463,"role":"last"},
{"w":"S2","line":2,"x":21,"role":"first"},{"w":"are","line":2,"x":81.5,"role":"mid"},{"w":"shown","line":2,"x":149.2,"role":"mid"},{"w":"as","line":2,"x":211.4,"role":"mid"},{"w":"bands","line":2,"x":269.5,"role":"mid"},{"w":"that","line":2,"x":337.4,"role":"mid"},{"w":"indicate","line":2,"x":463,"role":"last"},
{"w":"the","line":3,"x":21,"role":"first"},{"w":"range","line":3,"x":99.5,"role":"mid"},{"w":"of","line":3,"x":154.6,"role":"mid"},{"w":"CFD","line":3,"x":205.8,"role":"mid"},{"w":"results","line":3,"x":282.7,"role":"mid"},{"w":"at","line":3,"x":341.9,"role":"mid"},{"w":"different","line":3,"x":463,"role":"last"},
{"w":"levels","line":4,"x":21,"role":"first"},{"w":"in","line":4,"x":112.8,"role":"mid"},{"w":"the","line":4,"x":154.7,"role":"mid"},{"w":"chamber.","line":4,"x":238.8,"role":"mid"},{"w":"The","line":4,"x":327.7,"role":"mid"},{"w":"transient","line":4,"x":463,"role":"last"},
{"w":"CFD","line":5,"x":21,"role":"first"},{"w":"model","line":5,"x":123.4,"role":"mid"},{"w":"predictions","line":5,"x":233.9,"role":"mid"},{"w":"are","line":5,"x":325.8,"role":"mid"},{"w":"shown","line":5,"x":391.2,"role":"mid"},{"w":"as","line":5,"x":463,"role":"last"},
{"w":"red","line":6,"x":21,"role":"first"},{"w":"to","line":6,"x":82.3,"role":"mid"},{"w":"yellow","line":6,"x":146.05,"role":"mid"},{"w":"coloured","line":6,"x":249.25,"role":"mid"},{"w":"lines:","line":6,"x":344.4,"role":"mid"},{"w":"Red","line":6,"x":412.15,"role":"mid"},{"w":"–","line":6,"x":463,"role":"last"},
{"w":"top","line":7,"x":21,"role":"first"},{"w":"of","line":7,"x":94.3,"role":"mid"},{"w":"enclosure,","line":7,"x":189.7,"role":"mid"},{"w":"Yellow","line":7,"x":315.8,"role":"mid"},{"w":"at","line":7,"x":393.0,"role":"mid"},{"w":"the","line":7,"x":463,"role":"last"},
{"w":"bottom","line":8,"x":21,"role":"first"},{"w":"of","line":8,"x":169.5,"role":"mid"},{"w":"enclosure).","line":8,"x":299.7,"role":"mid"},{"w":"The","line":8,"x":463,"role":"last"},
{"w":"experimental","line":9,"x":21,"role":"first"},{"w":"results","line":9,"x":230.15,"role":"mid"},{"w":"are","line":9,"x":305.6,"role":"mid"},{"w":"shown","line":9,"x":381.05,"role":"mid"},{"w":"as","line":9,"x":463,"role":"last"},
{"w":"black","line":10,"x":21,"role":"first"},{"w":"to","line":10,"x":109.0,"role":"mid"},{"w":"grey","line":10,"x":159.9,"role":"mid"},{"w":"lines","line":10,"x":227.0,"role":"mid"},{"w":"(Black","line":10,"x":306.9,"role":"mid"},{"w":"–","line":10,"x":366.7,"role":"mid"},{"w":"top","line":10,"x":406.4,"role":"mid"},{"w":"of","line":10,"x":463,"role":"last"},
{"w":"enclosure,","line":11,"x":21,"role":"first"},{"w":"light","line":11,"x":175.4,"role":"mid"},{"w":"grey","line":11,"x":237.1,"role":"mid"},{"w":"at","line":11,"x":282.7,"role":"mid"},{"w":"the","line":11,"x":320.2,"role":"mid"},{"w":"bottom","line":11,"x":388.35,"role":"mid"},{"w":"of","line":11,"x":463,"role":"last"},
{"w":"enclosure).","line":12,"x":21,"role":"first"}
]
},
"hconcat": [
{
"width": 764, "height": 506,
"layer": [
{"data": {"values": [{"band":"high","lo":340,"hi":355},{"band":"mid","lo":320,"hi":330},{"band":"low","lo":308,"hi":313},{"band":"lowest","lo":295,"hi":305}]},
 "mark": {"type": "rect"},
 "encoding": {
  "x": {"datum": 0, "type": "quantitative", "scale": {"domain": [0, 2500], "nice": false, "zero": false}, "axis": {"title": "Simulation/Experiment Time [s]", "values": [0, 500, 1000, 1500, 2000, 2500], "format": ",", "labelExpr": "format(datum.value, ',')"}},
  "x2": {"datum": 2500},
  "y": {"field": "lo", "type": "quantitative", "scale": {"domain": [280, 380], "nice": false, "zero": false}, "axis": {"title": "Temperature [K]", "values": [280, 290, 300, 310, 320, 330, 340, 350, 360, 370, 380]}},
  "y2": {"field": "hi"},
  "fill": {"field": "band", "type": "nominal", "scale": {"domain": ["high", "mid", "low", "lowest"], "range": ["#fadada", "#fce7db", "#fdf1df", "#fffddc"]}, "legend": null}
 }},
{"data": {"values": [{"v":360},{"v":350},{"v":310}]}, "mark": {"type": "rule", "color": "#a6a6a6", "strokeWidth": 1.3},
 "encoding": {"y": {"field": "v", "type": "quantitative", "title": "Temperature [K]"}}},
{"data": {"values": [{"v":330},{"v":320}]}, "mark": {"type": "rule", "color": "#e46c0a", "strokeWidth": 1.2},
 "encoding": {"y": {"field": "v", "type": "quantitative", "title": "Temperature [K]"}}},
{"data": {"values": [{"v":355}]}, "mark": {"type": "rule", "color": "#e8262b", "strokeWidth": 2, "strokeDash": [5, 3]},
 "encoding": {"y": {"field": "v", "type": "quantitative", "title": "Temperature [K]"}}},
{"data": {"values": [{"v":340}]}, "mark": {"type": "rule", "color": "#d9262b", "strokeWidth": 2.5, "strokeDash": [14, 7]},
 "encoding": {"y": {"field": "v", "type": "quantitative", "title": "Temperature [K]"}}},
{"data": {"values": [{"v":313}]}, "mark": {"type": "rule", "color": "#f0c030", "strokeWidth": 1.3, "strokeDash": [5, 3]},
 "encoding": {"y": {"field": "v", "type": "quantitative", "title": "Temperature [K]"}}},
{"data": {"values": [{"v":308}]}, "mark": {"type": "rule", "color": "#f2b200", "strokeWidth": 2.5, "strokeDash": [14, 7]},
 "encoding": {"y": {"field": "v", "type": "quantitative", "title": "Temperature [K]"}}},
{"data": {"values": [{"v":305}]}, "mark": {"type": "rule", "color": "#f0ee30", "strokeWidth": 2, "strokeDash": [5, 3]},
 "encoding": {"y": {"field": "v", "type": "quantitative", "title": "Temperature [K]"}}},
{"data": {"values": [{"v":295}]}, "mark": {"type": "rule", "color": "#f0ee30", "strokeWidth": 2, "strokeDash": [9, 5]},
 "encoding": {"y": {"field": "v", "type": "quantitative", "title": "Temperature [K]"}}},
{"data": {"values": [{"lab":"HIGH TEMPERATURE SENSORS","t":602,"v":348.2},{"lab":"MID HEIGHT TEMPERATURE SENSORS","t":615,"v":322.5},{"lab":"LOW TEMPERATURE SENSORS","t":609,"v":311.2},{"lab":"LOWEST TEMPERATURE SENSORS","t":602,"v":300.4}]},
 "mark": {"type": "text", "align": "left", "baseline": "middle", "font": "Lato", "fontWeight": "bold", "fontSize": 16.5, "color": "#f08282"},
 "encoding": {"x": {"field": "t", "type": "quantitative", "axis": {"title": "Simulation/Experiment Time [s]", "values": [0, 500, 1000, 1500, 2000, 2500], "format": ",", "labelExpr": "format(datum.value, ',')"}}, "y": {"field": "v", "type": "quantitative", "title": "Temperature [K]"}, "text": {"field": "lab"}}},
{"data": {"name": "exp"},
 "mark": {"type": "line", "strokeWidth": 2, "interpolate": "linear"},
 "encoding": {
  "x": {"field": "t", "type": "quantitative", "axis": {"title": "Simulation/Experiment Time [s]", "values": [0, 500, 1000, 1500, 2000, 2500], "format": ",", "labelExpr": "format(datum.value, ',')"}},
  "y": {"field": "v", "type": "quantitative", "title": "Temperature [K]"},
  "stroke": {"field": "s", "type": "nominal", "legend": null, "scale": {"domain": ["exp01","exp02","exp03","exp04","exp05","exp06","exp07","exp08","exp09","exp10","exp11","exp12","cfd01","cfd02","cfd03","cfd04","cfd05","cfd06","cfd07","cfd08","cfd09","cfd10","cfd11","cfd12","cfd13"], "range": ["#b9b9b9","#c4c4c4","#ababab","#858585","#7a7a7a","#6e6e6e","#5c5c5c","#505050","#474747","#0a0a0a","#000000","#000000","#f7f000","#ffff20","#f0ea00","#f5ef00","#f5b400","#ffc000","#f0aa00","#e87010","#e46c0a","#f07c18","#ff0000","#f20000","#ff1a1a"]}}
 }},
{"data": {"name": "cfd"},
 "mark": {"type": "line", "strokeWidth": 1.6, "interpolate": "linear"},
 "encoding": {
  "x": {"field": "t", "type": "quantitative", "axis": {"title": "Simulation/Experiment Time [s]", "values": [0, 500, 1000, 1500, 2000, 2500], "format": ",", "labelExpr": "format(datum.value, ',')"}},
  "y": {"field": "v", "type": "quantitative", "title": "Temperature [K]"},
  "stroke": {"field": "s", "type": "nominal", "legend": null, "scale": {"domain": ["exp01","exp02","exp03","exp04","exp05","exp06","exp07","exp08","exp09","exp10","exp11","exp12","cfd01","cfd02","cfd03","cfd04","cfd05","cfd06","cfd07","cfd08","cfd09","cfd10","cfd11","cfd12","cfd13"], "range": ["#b9b9b9","#c4c4c4","#ababab","#858585","#7a7a7a","#6e6e6e","#5c5c5c","#505050","#474747","#0a0a0a","#000000","#000000","#f7f000","#ffff20","#f0ea00","#f5ef00","#f5b400","#ffc000","#f0aa00","#e87010","#e46c0a","#f07c18","#ff0000","#f20000","#ff1a1a"]}}
 }},
{"data": {"values": [{"t":2217,"v":323.3,"t2":2058,"v2":346.4},{"t":2217,"v":323.3,"t2":2048,"v2":327.0},{"t":2217,"v":323.3,"t2":2107,"v2":312.8},{"t":2217,"v":323.3,"t2":2172,"v2":304.9},{"t":1858,"v":284.2,"t2":1908,"v2":288.3},{"t":121,"v":278.6,"t2":105,"v2":283.6}]},
 "mark": {"type": "rule", "color": "#6f93cf", "strokeWidth": 1, "strokeDash": [3, 2]},
 "encoding": {"x": {"field": "t", "type": "quantitative", "axis": {"title": "Simulation/Experiment Time [s]", "values": [0, 500, 1000, 1500, 2000, 2500], "format": ",", "labelExpr": "format(datum.value, ',')"}}, "y": {"field": "v", "type": "quantitative", "title": "Temperature [K]"}, "x2": {"field": "t2"}, "y2": {"field": "v2"}}},
{"data": {"values": [{"txt":"Steady State","t":2362,"v":325.6},{"txt":"Simulations","t":2362,"v":322.5},{"txt":"Experimental","t":1721,"v":285.1},{"txt":"Results","t":1721,"v":281.8},{"txt":"Transient","t":193,"v":278.4},{"txt":"Results","t":193,"v":275.1}]},
 "mark": {"type": "text", "align": "center", "baseline": "middle", "font": "Lato", "fontSize": 11, "color": "#404040"},
 "encoding": {"x": {"field": "t", "type": "quantitative", "axis": {"title": "Simulation/Experiment Time [s]", "values": [0, 500, 1000, 1500, 2000, 2500], "format": ",", "labelExpr": "format(datum.value, ',')"}}, "y": {"field": "v", "type": "quantitative", "title": "Temperature [K]"}, "text": {"field": "txt"}}}
]
},
{
"width": 485, "height": 506,
"layer": [
{"data": {"values": [{"c0":0,"c1":485,"l0":-0.131,"l1":13.41}]},
 "mark": {"type": "rect", "fill": "white", "stroke": "black", "strokeWidth": 1.5},
 "encoding": {
  "x": {"field": "c0", "type": "quantitative", "scale": {"domain": [0, 485], "nice": false, "zero": false}, "axis": null},
  "x2": {"field": "c1"},
  "y": {"field": "l0", "type": "quantitative", "scale": {"domain": [-0.369, 14.69], "nice": false, "zero": false, "reverse": true}, "axis": null},
  "y2": {"field": "l1"}
 }},
{"data": {"name": "words"}, "transform": [{"filter": "datum.role == 'first'"}],
 "mark": {"type": "text", "align": "left", "baseline": "alphabetic", "font": "Liberation Serif", "fontSize": 29, "color": "#000000"},
 "encoding": {"x": {"field": "x", "type": "quantitative", "axis": null}, "y": {"field": "line", "type": "quantitative", "axis": null}, "text": {"field": "w"}}},
{"data": {"name": "words"}, "transform": [{"filter": "datum.role == 'mid'"}],
 "mark": {"type": "text", "align": "center", "baseline": "alphabetic", "font": "Liberation Serif", "fontSize": 29, "color": "#000000"},
 "encoding": {"x": {"field": "x", "type": "quantitative", "axis": null}, "y": {"field": "line", "type": "quantitative", "axis": null}, "text": {"field": "w"}}},
{"data": {"name": "words"}, "transform": [{"filter": "datum.role == 'last'"}],
 "mark": {"type": "text", "align": "right", "baseline": "alphabetic", "font": "Liberation Serif", "fontSize": 29, "color": "#000000"},
 "encoding": {"x": {"field": "x", "type": "quantitative", "axis": null}, "y": {"field": "line", "type": "quantitative", "axis": null}, "text": {"field": "w"}}}
]
}
]
}
